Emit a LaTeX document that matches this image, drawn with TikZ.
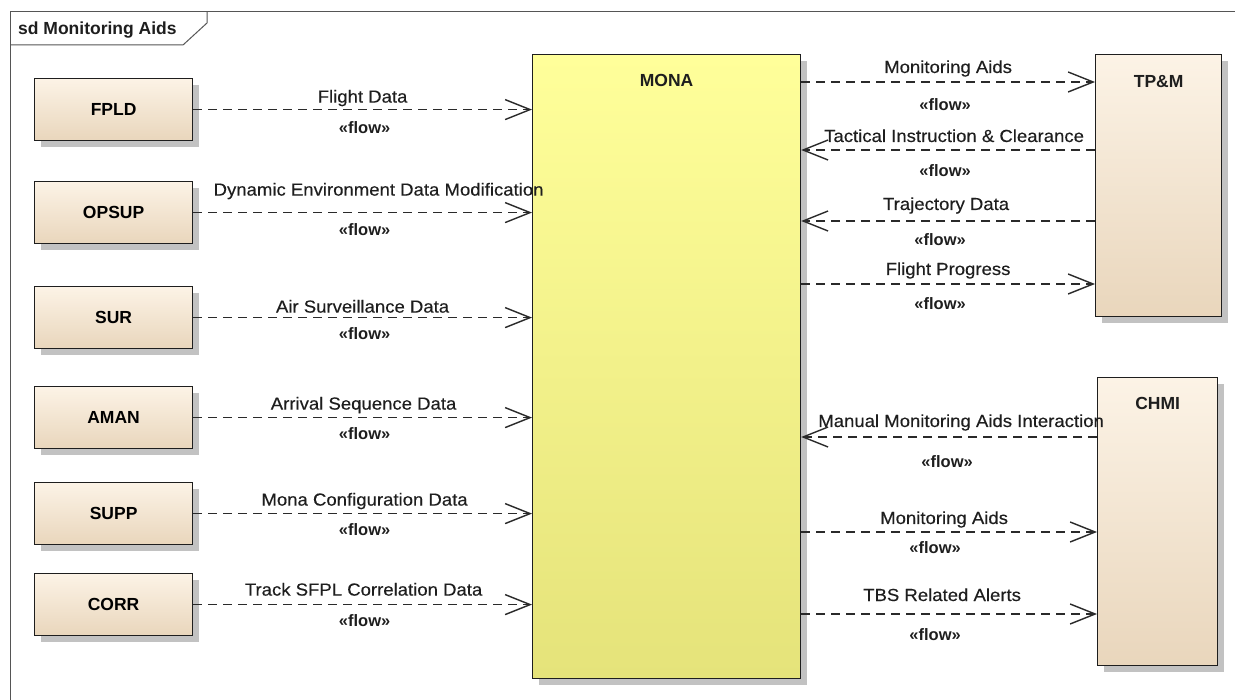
\documentclass[tikz,border=0pt]{standalone}
\usepackage{fontspec}
\setmainfont{Liberation Sans}
\newfontfamily\lblfont[FakeStretch=1.06,FakeBold=0.3]{Liberation Sans}
\usepackage{xcolor}
\definecolor{ink}{HTML}{1E1E1E}
\definecolor{wire}{HTML}{2A2A2A}
\definecolor{frameln}{HTML}{555555}
\definecolor{comptop}{HTML}{FCF3E6}
\definecolor{compbot}{HTML}{E9D6BC}
\definecolor{monatop}{HTML}{FFFF9A}
\definecolor{monabot}{HTML}{E5E37A}
\definecolor{shade}{HTML}{C2C2C2}
\usetikzlibrary{arrows.meta,positioning,calc,shadows}
\tikzset{
  >={Straight Barb[length=25pt,width=20pt,line width=1.4pt]},
  comp/.style   ={draw=ink,line width=1.2pt,top color=comptop,bottom color=compbot,
                  drop shadow={shadow xshift=6pt,shadow yshift=-6pt,fill=shade,opacity=1},
                  font=\fontsize{17.5}{20}\selectfont\bfseries,inner sep=0pt},
  monabox/.style={comp,top color=monatop,bottom color=monabot},
  ttl/.style    ={font=\fontsize{17.5}{20}\selectfont\bfseries,inner sep=0pt,text=ink},
  lbl/.style    ={font=\lblfont\fontsize{17.5}{20}\selectfont,inner sep=0pt,anchor=base,text=ink},
  flowlbl/.style={font=\fontsize{16.5}{20}\selectfont\bfseries,inner sep=0pt,anchor=base,text=ink},
  flow/.style   ={->,draw=wire,line width=1.3pt,dash pattern=on 9pt off 6pt},
}

\begin{document}
\begin{tikzpicture}[x=1pt,y=-1pt]
\useasboundingbox (0,0) rectangle (1235,700);
% frame
\draw[frameln,line width=1pt] (10,700) -- (10,12) -- (1235,12);
\draw[frameln,line width=1pt] (10,45) -- (183,45) -- (207,23) -- (207,12);
\node[ttl,anchor=base west] (sd) at (18,35) {sd Monitoring Aids};
% left components
\node[comp,anchor=north west,minimum width=158pt,minimum height=62pt] (fpld)  at (34,78)  {FPLD};
\node[comp,anchor=north west,minimum width=158pt,minimum height=62pt] (opsup) at (34,181) {OPSUP};
\node[comp,anchor=north west,minimum width=158pt,minimum height=62pt] (sur)   at (34,286) {SUR};
\node[comp,anchor=north west,minimum width=158pt,minimum height=62pt] (aman)  at (34,386) {AMAN};
\node[comp,anchor=north west,minimum width=158pt,minimum height=62pt] (supp)  at (34,482) {SUPP};
\node[comp,anchor=north west,minimum width=158pt,minimum height=62pt] (corr)  at (34,573) {CORR};
% MONA and right components
\node[monabox,anchor=north west,minimum width=268pt,minimum height=624pt] (mona) at (532,54) {};
\node[ttl,anchor=base] (monattl) at ($(mona.north)+(0,33)$) {MONA};
\node[comp,anchor=north west,minimum width=126pt,minimum height=262pt] (tpm) at (1095,54) {};
\node[ttl,anchor=base] (tpmttl) at ($(tpm.north)+(0,34)$) {TP\&M};
\node[comp,anchor=north west,minimum width=120pt,minimum height=288pt] (chmi) at (1097,377) {};
\node[ttl,anchor=base] (chmittl) at ($(chmi.north)+(0,33)$) {CHMI};
% attach points on the right
\coordinate (t1) at ($(tpm.north west)+(0,28)$);
\coordinate (t2) at ($(tpm.north west)+(0,96)$);
\coordinate (t3) at ($(tpm.north west)+(0,167)$);
\coordinate (t4) at ($(tpm.north west)+(0,230)$);
\coordinate (c1) at ($(chmi.north west)+(0,60)$);
\coordinate (c2) at ($(chmi.north west)+(0,155)$);
\coordinate (c3) at ($(chmi.north west)+(0,237)$);
% flows into MONA
\draw[flow] (fpld.east) -- (fpld.east -| mona.west)
  node[lbl,midway,yshift=7pt]{Flight Data} node[flowlbl,midway,xshift=2pt,yshift=-24pt]{«flow»};
\draw[flow] (opsup.east) -- (opsup.east -| mona.west)
  node[lbl,midway,xshift=16pt,yshift=17pt]{Dynamic Environment Data Modification} node[flowlbl,midway,xshift=2pt,yshift=-23pt]{«flow»};
\draw[flow] (sur.east) -- (sur.east -| mona.west)
  node[lbl,midway,yshift=5pt]{Air Surveillance Data} node[flowlbl,midway,xshift=2pt,yshift=-22pt]{«flow»};
\draw[flow] (aman.east) -- (aman.east -| mona.west)
  node[lbl,midway,xshift=1pt,yshift=8pt]{Arrival Sequence Data} node[flowlbl,midway,xshift=2pt,yshift=-22pt]{«flow»};
\draw[flow] (supp.east) -- (supp.east -| mona.west)
  node[lbl,midway,xshift=2pt,yshift=8pt]{Mona Configuration Data} node[flowlbl,midway,xshift=2pt,yshift=-22pt]{«flow»};
\draw[flow] (corr.east) -- (corr.east -| mona.west)
  node[lbl,midway,xshift=1pt,yshift=9pt]{Track SFPL Correlation Data} node[flowlbl,midway,xshift=2pt,yshift=-22pt]{«flow»};
% flows with TP&M
\draw[flow] (mona.east |- t1) -- (t1)
  node[lbl,midway,yshift=9pt]{Monitoring Aids} node[flowlbl,midway,xshift=-3pt,yshift=-29pt]{«flow»};
\draw[flow] (t2) -- (mona.east |- t2)
  node[lbl,midway,xshift=6pt,yshift=8pt]{Tactical Instruction \& Clearance} node[flowlbl,midway,xshift=-3pt,yshift=-27pt]{«flow»};
\draw[flow] (t3) -- (mona.east |- t3)
  node[lbl,midway,xshift=-2pt,yshift=11pt]{Trajectory Data} node[flowlbl,midway,xshift=-8pt,yshift=-25pt]{«flow»};
\draw[flow] (mona.east |- t4) -- (t4)
  node[lbl,midway,yshift=9pt]{Flight Progress} node[flowlbl,midway,xshift=-8pt,yshift=-26pt]{«flow»};
% flows with CHMI
\draw[flow] (c1) -- (mona.east |- c1)
  node[lbl,midway,xshift=12pt,yshift=10pt]{Manual Monitoring Aids Interaction} node[flowlbl,midway,xshift=-2pt,yshift=-31pt]{«flow»};
\draw[flow] (mona.east |- c2) -- (c2)
  node[lbl,midway,xshift=-5pt,yshift=8pt]{Monitoring Aids} node[flowlbl,midway,xshift=-14pt,yshift=-21pt]{«flow»};
\draw[flow] (mona.east |- c3) -- (c3)
  node[lbl,midway,xshift=-7pt,yshift=13pt]{TBS Related Alerts} node[flowlbl,midway,xshift=-14pt,yshift=-26pt]{«flow»};
\end{tikzpicture}
\end{document}
